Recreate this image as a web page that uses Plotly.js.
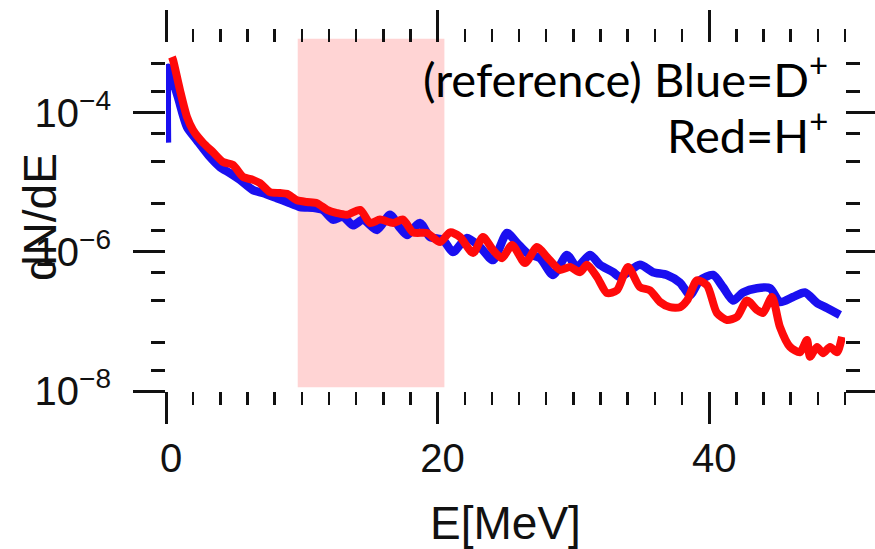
<!DOCTYPE html>
<html>
<head>
<meta charset="utf-8">
<script src="https://cdn.plot.ly/plotly-3.0.1.min.js"></script>
<style>html,body{margin:0;padding:0;background:#fff;}#chart{width:875px;height:549px;}</style>
</head>
<body>
<div id="chart"></div>
<script>
// ---- Data ----
// Blue = D+ spectrum
const blueE = [0.07,0.15,0.37,0.88,1.55,2.28,3.24,3.98,4.71,5.45,6.41,7.14,8.17,8.91,9.87,10.82,11.56,12.3,13.03,13.77,14.51,15.54,16.49,17.23,17.75,18.7,19.44,20.4,21.13,22.16,23.12,24.08,25.11,25.85,26.58,27.54,28.5,29.53,30.26,31.22,31.96,32.92,33.43,34.9,35.86,36.89,37.85,38.59,39.32,40.28,41.02,41.75,42.49,43.52,44.48,45.21,46.17,47.05,47.94,48.67,49.63];
const blueN = [3.7e-5,4.4e-4,3.5e-4,1.67e-4,6.2e-5,4.0e-5,2.3e-5,1.65e-5,1.35e-5,1.08e-5,7.7e-6,7.0e-6,5.9e-6,5.2e-6,4.4e-6,4.3e-6,4.0e-6,2.9e-6,3.2e-6,2.4e-6,2.9e-6,2.06e-6,3.4e-6,2.2e-6,1.74e-6,2.6e-6,1.63e-6,1.48e-6,9.9e-7,1.58e-6,1.17e-6,7.6e-7,1.86e-6,1.34e-6,9.6e-7,8.1e-7,4.65e-7,9.0e-7,6.05e-7,9.0e-7,6.5e-7,5.1e-7,4.35e-7,6.5e-7,5.1e-7,4.65e-7,3.6e-7,2.4e-7,3.9e-7,4.65e-7,3.1e-7,2.0e-7,2.6e-7,3.0e-7,3.0e-7,1.9e-7,2.24e-7,2.6e-7,1.84e-7,1.56e-7,1.24e-7];
// Red = H+ spectrum
const redE = [0.44,0.52,1.03,1.55,1.99,2.72,3.46,4.2,4.93,5.67,6.41,6.92,7.66,8.39,8.91,9.65,10.38,11.12,11.86,12.59,13.33,14.29,15.02,15.76,16.72,17.45,18.19,19.22,20.18,20.91,21.65,22.61,23.34,24.08,24.74,25.48,26.44,27.32,28.06,29.01,29.75,30.49,31.0,31.74,32.47,33.21,34.02,34.9,35.64,36.38,37.11,37.85,38.37,39.1,39.84,40.57,41.31,42.05,42.78,43.52,43.96,44.62,45.21,45.95,46.69,47.2,47.42,47.94,48.38,48.9,49.41,49.78];
const redN = [6.3e-4,5.7e-4,2.1e-4,8.6e-5,5.6e-5,3.7e-5,2.7e-5,1.95e-5,1.77e-5,1.19e-5,1.08e-5,9.7e-6,7.2e-6,7.0e-6,6.8e-6,5.5e-6,5.2e-6,5.0e-6,4.0e-6,3.6e-6,3.4e-6,4.0e-6,2.6e-6,2.9e-6,2.6e-6,2.9e-6,1.9e-6,1.86e-6,1.38e-6,1.9e-6,1.63e-6,9.6e-7,1.63e-6,1.06e-6,8.1e-7,1.25e-6,6.9e-7,1.17e-6,8.4e-7,5.5e-7,6.05e-7,5.1e-7,6.5e-7,4.35e-7,2.56e-7,2.8e-7,6.05e-7,3.1e-7,2.8e-7,1.9e-7,1.6e-7,1.6e-7,2.0e-7,3.9e-7,3.3e-7,1.32e-7,1.05e-7,1.16e-7,2.0e-7,1.46e-7,1.32e-7,2.24e-7,8.3e-8,4.3e-8,3.6e-8,5.4e-8,3.1e-8,4.3e-8,3.5e-8,4.3e-8,3.6e-8,6.0e-8];
// Highlighted energy band [MeV]
const bandE = [9.7, 20.5];
// Axis ticks and labels
const xMajorTicks = [0, 20, 40];
const xMajorLabels = ['0', '20', '40'];
const xMidTicks = [10, 30, 50];
const yMajorTicks = [1e-8, 1e-6, 1e-4];
const yMajorLabels = ['10<sup>\u22128</sup>', '10<sup>\u22126</sup>', '10<sup>\u22124</sup>'];
const yMidTicks = [1e-7, 1e-5, 1e-3];
const yMinorTicks = [2e-8,5e-8,2e-7,5e-7,2e-6,5e-6,2e-5,5e-5,2e-4,5e-4];
const yShortTicks = [1.5e-8,1.5e-7,1.5e-6,1.5e-5,1.5e-4];
const xTitle = 'E[MeV]';
const yTitle = 'dN/dE';
const note1 = '(reference) Blue=D<sup>+</sup>';
const note2 = 'Red=H<sup>+</sup>';

const tickFont = {family: 'Liberation Sans, Arial, sans-serif', size: 40, color: '#111'};

const traces = [
  {x: blueE, y: blueN, type: 'scatter', mode: 'lines', name: 'D+',
   line: {color: '#1a0ff0', width: 8.5, shape: 'spline', smoothing: 0.7}, showlegend: false},
  {x: redE, y: redN, type: 'scatter', mode: 'lines', name: 'H+',
   line: {color: '#ff0a0a', width: 8, shape: 'spline', smoothing: 0.7}, showlegend: false}
];

const layout = {
  width: 875, height: 549,
  margin: {l: 166, r: 30, t: 43, b: 158, pad: 0},
  paper_bgcolor: '#ffffff',
  plot_bgcolor: 'rgba(0,0,0,0)',
  showlegend: false,
  xaxis: {
    range: [0, 50], showgrid: false, zeroline: false, showline: false,
    tickmode: 'array', tickvals: xMajorTicks, ticktext: xMajorLabels,
    ticks: 'outside', ticklen: 32, tickwidth: 3, tickcolor: '#111',
    mirror: 'ticks', tickfont: tickFont, ticklabelstandoff: 0, ticklabelshift: 5,
    minor: {dtick: 2, tick0: 0, ticks: 'outside', ticklen: 13, tickwidth: 2.5, tickcolor: '#111', showgrid: false},
    title: {text: xTitle, font: {family: 'Liberation Sans, Arial, sans-serif', size: 46, color: '#111'}, standoff: 34},
    automargin: false, fixedrange: true
  },
  xaxis2: {
    overlaying: 'x', anchor: 'y', side: 'bottom', range: [0, 50],
    showgrid: false, zeroline: false, showline: false, showticklabels: false,
    tickmode: 'array', tickvals: xMidTicks,
    ticks: 'outside', ticklen: 21, tickwidth: 3, tickcolor: '#111', mirror: 'ticks',
    automargin: false, fixedrange: true
  },
  yaxis: {
    type: 'log', range: [-8, -3], showgrid: false, zeroline: false, showline: false,
    tickmode: 'array', tickvals: yMajorTicks, ticktext: yMajorLabels,
    ticks: 'outside', ticklen: 32, tickwidth: 3, tickcolor: '#111',
    mirror: 'ticks', tickfont: tickFont, ticklabelstandoff: 14,
    minor: {tickmode: 'array', tickvals: yMinorTicks, ticks: 'outside', ticklen: 14, tickwidth: 3, tickcolor: '#111', showgrid: false},
    automargin: false, fixedrange: true
  },
  yaxis2: {
    type: 'log', overlaying: 'y', anchor: 'x', side: 'left', range: [-8, -3],
    showgrid: false, zeroline: false, showline: false, showticklabels: false,
    tickmode: 'array', tickvals: yMidTicks,
    ticks: 'outside', ticklen: 22, tickwidth: 3, tickcolor: '#111', mirror: 'ticks',
    minor: {tickmode: 'array', tickvals: yShortTicks, ticks: 'outside', ticklen: 8, tickwidth: 3, tickcolor: '#111', showgrid: false},
    automargin: false, fixedrange: true
  },
  shapes: [{
    type: 'rect', layer: 'below', xref: 'x', yref: 'paper',
    x0: bandE[0], x1: bandE[1], y0: 0.011, y1: 1.012,
    fillcolor: '#ffd4d4', line: {width: 0}
  }],
  annotations: [
    {text: yTitle, xref: 'paper', yref: 'paper', x: -0.1856, y: 0.5, textangle: -90,
     xanchor: 'center', yanchor: 'middle', showarrow: false,
     font: {family: 'Liberation Sans, Arial, sans-serif', size: 46, color: '#111'}},
    {text: note1, xref: 'paper', yref: 'paper', x: 0.978, y: 0.905,
     xanchor: 'right', yanchor: 'middle', showarrow: false,
     font: {family: 'Lato, sans-serif', size: 47, color: '#000'}},
    {text: note2, xref: 'paper', yref: 'paper', x: 0.978, y: 0.745,
     xanchor: 'right', yanchor: 'middle', showarrow: false,
     font: {family: 'Lato, sans-serif', size: 47, color: '#000'}}
  ]
};

Plotly.newPlot('chart', traces, layout, {displayModeBar: false, staticPlot: true});
</script>
</body>
</html>
